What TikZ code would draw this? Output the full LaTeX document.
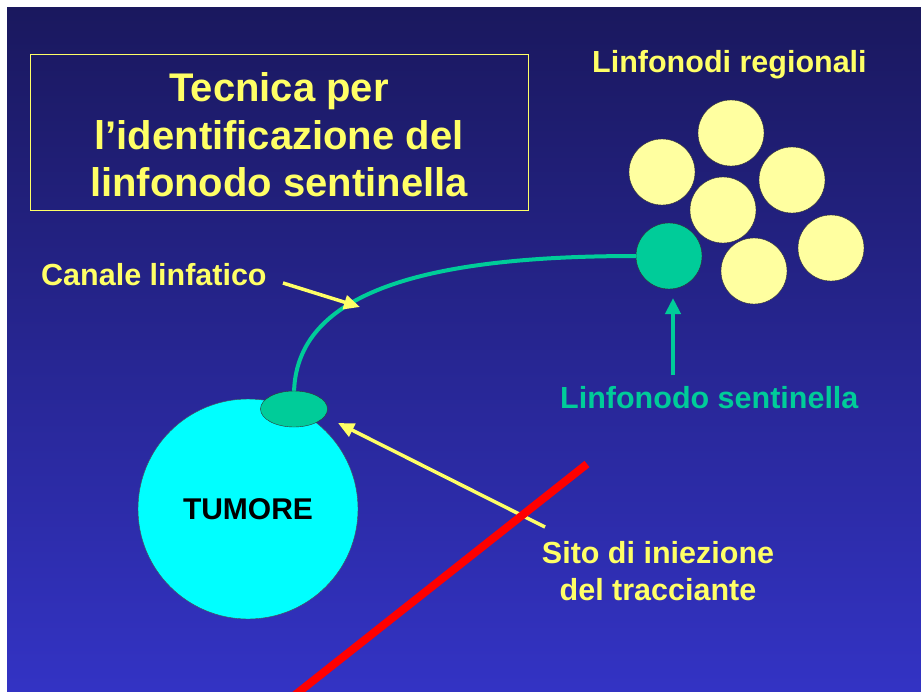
\documentclass[tikz,border=0pt]{standalone}
\usepackage{fontspec}
\setmainfont{Liberation Sans}
\usetikzlibrary{arrows.meta,shapes.geometric}
\definecolor{navytop}{RGB}{26,24,94}
\definecolor{navybot}{RGB}{51,51,196}
\definecolor{textyellow}{RGB}{255,255,102}
\definecolor{nodeyellow}{RGB}{255,255,160}
\definecolor{sentteal}{RGB}{0,204,153}
\definecolor{tumorcyan}{RGB}{0,255,255}
\tikzset{
  lnode/.style={circle, draw=black!80, thin, fill=nodeyellow, minimum size=66pt, inner sep=0pt},
  lbl/.style={text=textyellow, inner sep=0pt, font=\bfseries\fontsize{30.5}{37}\selectfont},
  yarrow/.style={textyellow, line width=3.5pt, -{Triangle[length=16pt,width=14pt]}},
}

\begin{document}
\begin{tikzpicture}[x=1pt,y=-1pt]
\useasboundingbox (0,0) rectangle (921,691);
\fill[white] (0,0) rectangle (921,691);
\shade[top color=navytop, bottom color=navybot] (7,7) rectangle (921,691);

% title
\node[draw=textyellow, thin, minimum width=498pt, minimum height=156pt] (titlebox) at (279,132) {};
\node[text=textyellow, align=center, inner sep=0pt, font=\bfseries\fontsize{40}{47.5}\selectfont] (title) at (279,135)
  {Tecnica per\\l’identificazione del\\linfonodo sentinella};

% lymph nodes
\node[lnode] (ln1) at (731,133) {};
\node[lnode] (ln2) at (662,172) {};
\node[lnode] (ln3) at (792,180) {};
\node[lnode] (ln4) at (723,210) {};
\node[lnode] (ln5) at (831,248) {};
\node[lnode] (ln6) at (754,271) {};
\node[lnode, fill=sentteal] (sent) at (669,256) {};

% tumour and injection site
\node[circle, draw=black!70, fill=tumorcyan, minimum size=220pt, inner sep=0pt,
  font=\bfseries\fontsize{30}{36}\selectfont] (tumor) at (248,509) {TUMORE};
\draw[sentteal, line width=4pt] (294,395) .. controls (294,290) and (430,256) .. (sent.west);
\node[ellipse, draw=black!80, fill=sentteal, minimum width=67pt, minimum height=36pt, inner sep=0pt] (inj) at (294,409) {};

% labels
\node[lbl, anchor=base west] (reglbl) at (592,72) {Linfonodi regionali};
\node[lbl, anchor=base west] (chlbl) at (41,285) {Canale linfatico};
\node[lbl, anchor=base west, text=sentteal] (sentlbl) at (560,408) {Linfonodo sentinella};
\node[lbl, anchor=base, align=center] (injlbl) at (658,600) {Sito di iniezione\\del tracciante};

% arrows
\coordinate (chtail) at (283,283);
\coordinate (chtip) at (360,307);
\coordinate (injtail) at (545,527);
\coordinate (injtip) at (338,423);
\coordinate (senttail) at (673,375);
\coordinate (senttip) at (673,298);
\draw[yarrow] (chtail) -- (chtip);
\draw[yarrow] (injtail) -- (injtip);
\draw[sentteal, line width=4pt, -{Triangle[length=16pt,width=15pt]}] (senttail) -- (senttip);

\begin{scope}
\clip (7,7) rectangle (921,691);
\draw[red, line width=8pt] (587,464) -- (295,695);
\end{scope}
\end{tikzpicture}
\end{document}
